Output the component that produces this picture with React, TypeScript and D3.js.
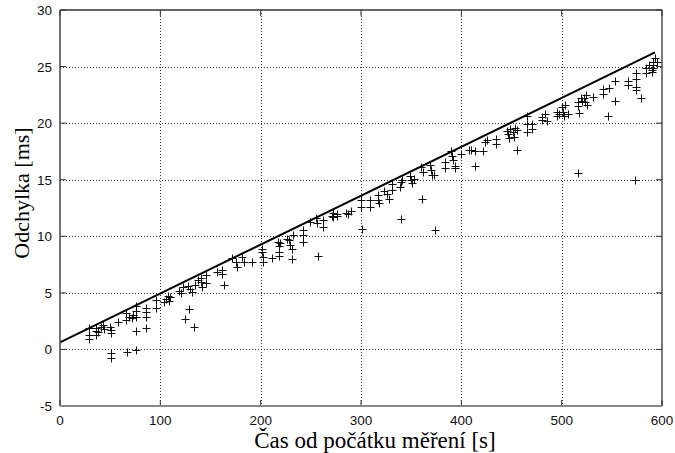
import React from "react";
import * as d3 from "d3";

const times = [
  29, 29, 29, 36, 36, 36, 38, 41, 43, 44,
  50, 51, 51, 51, 51, 58, 66, 66, 67, 69,
  72, 73, 76, 76, 76, 76, 76, 86, 86, 86,
  86, 96, 96, 104, 106, 108, 109, 110, 119, 121,
  123, 124.5, 129, 134, 128, 130, 132, 135, 138, 141,
  141, 142, 146, 146, 156, 161, 161, 163, 171, 175,
  176, 181, 183, 191, 201, 201, 202, 202, 211, 217,
  218, 218, 218, 219, 226, 228, 229, 231, 231, 232,
  242, 242, 242, 249, 256, 255, 257, 262, 262, 271,
  272, 272, 276, 276, 285, 287, 290, 300, 300, 300.5,
  309, 309, 317, 317, 318, 323, 326, 328, 331, 331,
  339, 340, 341, 340, 349, 350, 351, 353, 360, 362,
  361, 369, 370, 371, 373, 373.5, 384, 384, 390, 391,
  392, 394, 394, 400, 408, 410, 414, 414, 422, 424,
  426, 435, 435, 446, 447, 448, 449, 451, 452, 453,
  455, 455, 465, 465, 465, 470, 470, 480, 480, 483,
  485, 495, 495, 497, 500, 501, 503, 502, 506, 516,
  516, 517, 519, 520, 522, 523, 524, 525, 531, 516,
  541, 541, 547, 553, 553, 546, 566, 566, 574, 574,
  574, 574, 579, 573, 584, 584, 587, 590, 590, 591,
  591, 593, 595, 591,
];

const deviations = [
  1.85, 1.3, 0.9, 1.9, 1.6, 1.3, 1.5, 2.0, 2.2, 1.8,
  2.0, 1.7, 1.45, -0.35, -0.8, 2.45, 3.2, 2.6, -0.2, 2.9,
  2.8, 3.0, 3.8, 3.4, 2.9, 1.65, -0.05, 3.7, 3.3, 2.85,
  1.87, 4.4, 3.7, 4.2, 4.5, 4.7, 4.3, 4.6, 5.2, 5.0,
  5.5, 2.66, 3.57, 1.95, 5.6, 5.3, 5.1, 5.7, 6.1, 6.3,
  6.0, 5.55, 6.6, 5.85, 6.8, 7.0, 6.7, 5.7, 8.05, 7.75,
  7.3, 8.2, 7.75, 7.75, 8.6, 8.9, 8.2, 7.75, 8.05, 9.5,
  9.1, 8.6, 8.25, 9.4, 9.8, 9.7, 9.2, 8.9, 8.0, 10.1,
  10.55, 10.1, 9.5, 11.3, 11.15, 11.6, 8.3, 11.4, 10.85, 11.8,
  12.1, 11.7, 11.8, 11.95, 12.1, 12.0, 12.2, 13.2, 12.6, 10.6,
  13.2, 12.6, 13.65, 13.2, 12.9, 14.0, 13.7, 13.3, 14.6, 14.1,
  14.4, 14.8, 15.0, 11.5, 15.3, 15.0, 14.7, 15.1, 16.15, 15.7,
  13.3, 16.3, 15.85, 15.4, 15.4, 10.55, 16.6, 16.0, 17.5, 17.1,
  16.7, 16.2, 16.0, 17.3, 17.6, 17.6, 17.5, 16.2, 17.5, 18.3,
  18.5, 18.6, 18.2, 19.3, 19.0, 18.7, 19.5, 19.2, 18.8, 19.6,
  17.6, 19.4, 20.6, 19.9, 19.2, 19.9, 19.5, 20.5, 20.3, 20.8,
  20.2, 21.0, 20.6, 20.8, 21.4, 21.0, 21.6, 20.6, 20.8, 21.9,
  21.5, 20.9, 22.2, 22.0, 22.2, 21.9, 22.5, 21.6, 22.3, 15.6,
  23.0, 22.6, 23.1, 23.7, 22.0, 20.6, 23.7, 23.4, 24.4, 23.9,
  23.2, 22.9, 22.2, 15.0, 24.9, 24.4, 25.1, 24.7, 24.5, 25.1,
  25.4, 25.8, 25.4, 24.9,
];

const fitLineX = [0, 593];
const fitLineY = [0.63, 26.25];

const xTicks = [0, 100, 200, 300, 400, 500, 600];
const yTicks = [-5, 0, 5, 10, 15, 20, 25, 30];

const xLabel = "Čas od počátku měření [s]";
const yLabel = "Odchylka [ms]";

const W = 675;
const H = 453;
const L = 60;
const R = 662;
const T = 10;
const B = 406;

export default function App() {
  const x = d3.scaleLinear().domain([0, 600]).range([L, R]);
  const y = d3.scaleLinear().domain([-5, 30]).range([B, T]);
  const line = d3
    .line<number>()
    .x((_, i) => x(fitLineX[i]))
    .y((d) => y(d));
  const tickFont = "'Liberation Sans', Arial, sans-serif";
  const titleFont = "'Liberation Serif', 'Times New Roman', serif";
  const arm = 4;
  return (
    <svg
      width={W}
      height={H}
      style={{ position: "absolute", left: 0, top: 0, background: "#fff" }}
    >
      <rect x={0} y={0} width={W} height={H} fill="#fff" />
      {xTicks.slice(1, -1).map((t) => (
        <line
          key={"gx" + t}
          x1={Math.round(x(t)) + 0.5}
          x2={Math.round(x(t)) + 0.5}
          y1={T}
          y2={B}
          stroke="#333"
          strokeWidth={1}
          strokeDasharray="1,2"
        />
      ))}
      {yTicks.slice(1, -1).map((t) => (
        <line
          key={"gy" + t}
          x1={L}
          x2={R}
          y1={Math.round(y(t)) + 0.5}
          y2={Math.round(y(t)) + 0.5}
          stroke="#333"
          strokeWidth={1}
          strokeDasharray="1,2"
        />
      ))}
      {xTicks.map((t) => (
        <g key={"tx" + t}>
          <line x1={x(t)} x2={x(t)} y1={B} y2={B - 6} stroke="#333" />
          <line x1={x(t)} x2={x(t)} y1={T} y2={T + 6} stroke="#333" />
        </g>
      ))}
      {yTicks.map((t) => (
        <g key={"ty" + t}>
          <line x1={L} x2={L + 6} y1={y(t)} y2={y(t)} stroke="#333" />
          <line x1={R} x2={R - 6} y1={y(t)} y2={y(t)} stroke="#333" />
        </g>
      ))}
      {times.map((t, i) => {
        const px = Math.round(x(t)) + 0.5;
        const py = Math.round(y(deviations[i])) + 0.5;
        return (
          <path
            key={"p" + i}
            d={`M${px - arm},${py}H${px + arm}M${px},${py - arm}V${py + arm}`}
            stroke="#111"
            strokeWidth={1}
            fill="none"
          />
        );
      })}
      <path d={line(fitLineY) || ""} stroke="#000" strokeWidth={2} fill="none" />
      <line x1={L} x2={R} y1={T} y2={T} stroke="#333" strokeWidth={1.3} />
      <line x1={R} x2={R} y1={T} y2={B} stroke="#333" strokeWidth={1.3} />
      <line x1={L} x2={L} y1={T} y2={B} stroke="#444" strokeWidth={1.5} />
      <line x1={L} x2={R} y1={B} y2={B} stroke="#888" strokeWidth={2} />
      {xTicks.map((t) => (
        <text
          key={"lx" + t}
          x={x(t)}
          y={425}
          textAnchor="middle"
          fontFamily={tickFont}
          fontSize={13.5}
          fill="#111"
        >
          {t}
        </text>
      ))}
      {yTicks.map((t) => (
        <text
          key={"ly" + t}
          x={52}
          y={y(t) + 5}
          textAnchor="end"
          fontFamily={tickFont}
          fontSize={13.5}
          fill="#111"
        >
          {t}
        </text>
      ))}
      <text
        x={375}
        y={448}
        textAnchor="middle"
        fontFamily={titleFont}
        fontSize={23}
        fill="#000"
      >
        {xLabel}
      </text>
      <text
        transform="translate(29,193) rotate(-90)"
        textAnchor="middle"
        fontFamily={titleFont}
        fontSize={22}
        fill="#000"
      >
        {yLabel}
      </text>
    </svg>
  );
}
